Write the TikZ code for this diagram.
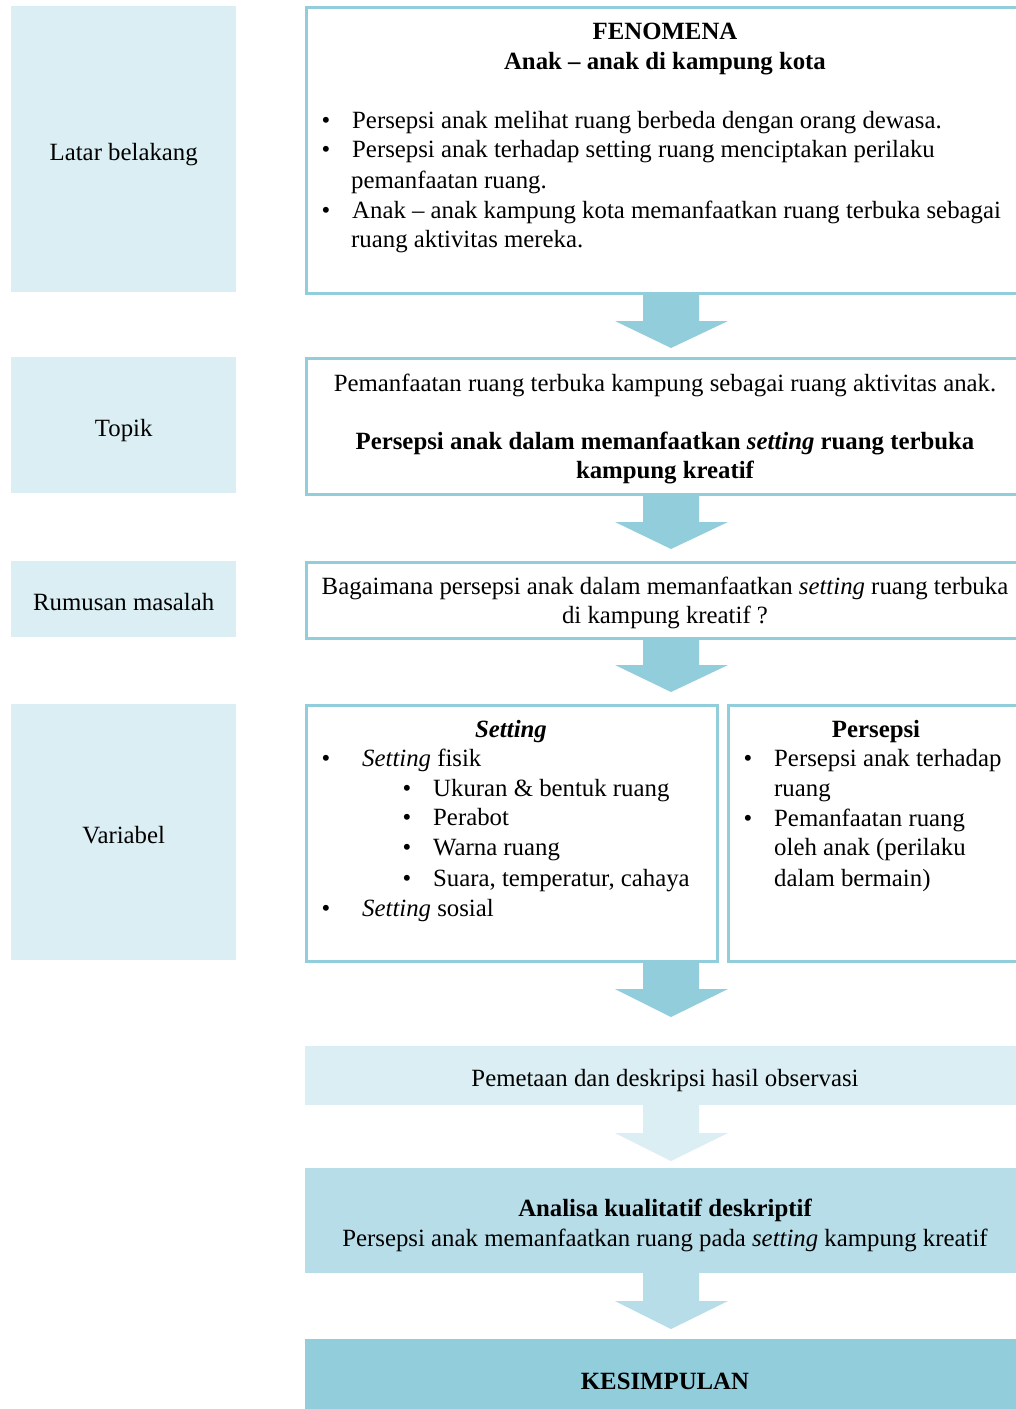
\documentclass[tikz,border=0pt]{standalone}
\usepackage{fontspec}
\setmainfont{Liberation Serif}
\definecolor{bblue}{HTML}{92CDDC}
\definecolor{lblue}{HTML}{DAEEF3}
\definecolor{mblue}{HTML}{B7DDE8}
\newcommand\fs{\fontsize{24.8}{29.5}\selectfont}
\newcommand\blockarrow[4]{%
  \fill[#4] (643,#1) -- (699,#1) -- (699,#2) -- (728,#2) -- (671,#3) -- (615,#2) -- (643,#2) -- cycle;}
\begin{document}
\begin{tikzpicture}[x=1pt,y=-1pt,
  txt/.style={inner sep=0, anchor=base west, font=\fs},
  ctxt/.style={inner sep=0, anchor=base, font=\fs},
  bul/.style={inner sep=0, anchor=base, font=\fs},
  lab/.style={fill=lblue, inner sep=0, anchor=north west, font=\fs, text height=22pt, text depth=0pt},
  box/.style={draw=bblue, line width=3, fill=white, inner sep=0, anchor=north west},
  flat/.style={inner sep=0, anchor=north west},
]
\clip (0,0) rectangle (1016,1409);
\fill[white] (0,0) rectangle (1016,1409);

% left labels
\node[lab, minimum width=225, minimum height=286] (lb) at (11,6) {Latar belakang};
\node[lab, minimum width=225, minimum height=136] (lt) at (11,357) {Topik};
\node[lab, minimum width=225, minimum height=76] (lr) at (11,561) {Rumusan masalah};
\node[lab, minimum width=225, minimum height=256] (lv) at (11,704) {Variabel};

% right boxes
\node[box, minimum width=720, minimum height=286] (fen) at (305,6) {};
\node[box, minimum width=720, minimum height=136] (top) at (305,357) {};
\node[box, minimum width=720, minimum height=76] (rum) at (305,561) {};
\node[box, minimum width=411, minimum height=256] (set) at (305,704) {};
\node[box, minimum width=300, minimum height=256] (per) at (727,704) {};
\node[flat, fill=lblue, minimum width=720, minimum height=59] (pem) at (305,1046) {};
\node[flat, fill=mblue, minimum width=720, minimum height=105] (ana) at (305,1168) {};
\node[flat, fill=bblue, minimum width=720, minimum height=75] (kes) at (305,1339) {};

% arrows
\blockarrow{293}{321}{348}{bblue}
\blockarrow{495}{522}{549}{bblue}
\blockarrow{639}{665}{692}{bblue}
\blockarrow{962}{989}{1017}{bblue}
\blockarrow{1105}{1133}{1161}{lblue}
\blockarrow{1273}{1301}{1329}{mblue}

% fenomena text
\node[ctxt] (f1) at (665,39) {\bfseries FENOMENA};
\node[ctxt] (f2) at (665,69) {\bfseries Anak -- anak di kampung kota};
\node[bul] (fb1) at (326,128) {•};
\node[txt] (ft1) at (352,128) {Persepsi anak melihat ruang berbeda dengan orang dewasa.};
\node[bul] (fb2) at (326,157) {•};
\node[txt] (ft2) at (352,157) {Persepsi anak terhadap setting ruang menciptakan perilaku};
\node[txt] (ft3) at (351,188) {pemanfaatan ruang.};
\node[bul] (fb3) at (326,218) {•};
\node[txt] (ft4) at (352,218) {Anak -- anak kampung kota memanfaatkan ruang terbuka sebagai};
\node[txt] (ft5) at (351,247) {ruang aktivitas mereka.};

% topik text
\node[ctxt] (t1) at (665,391) {Pemanfaatan ruang terbuka kampung sebagai ruang aktivitas anak.};
\node[ctxt] (t2) at (665,449) {\bfseries Persepsi anak dalam memanfaatkan \textit{setting} ruang terbuka};
\node[ctxt] (t3) at (665,478) {\bfseries kampung kreatif};

% rumusan text
\node[ctxt] (r1) at (665,594) {Bagaimana persepsi anak dalam memanfaatkan \textit{setting} ruang terbuka};
\node[ctxt] (r2) at (665,623) {di kampung kreatif ?};

% setting text
\node[ctxt] (s0) at (511,737) {\bfseries\itshape Setting};
\node[bul] (sb1) at (326,766) {•};
\node[txt] (s1) at (362,766) {\textit{Setting} fisik};
\node[bul] (sb2) at (407,796) {•};
\node[txt] (s2) at (433,796) {Ukuran \& bentuk ruang};
\node[bul] (sb3) at (407,825) {•};
\node[txt] (s3) at (433,825) {Perabot};
\node[bul] (sb4) at (407,855) {•};
\node[txt] (s4) at (433,855) {Warna ruang};
\node[bul] (sb5) at (407,886) {•};
\node[txt] (s5) at (433,886) {Suara, temperatur, cahaya};
\node[bul] (sb6) at (326,916) {•};
\node[txt] (s6) at (362,916) {\textit{Setting} sosial};

% persepsi text
\node[ctxt] (p0) at (876,737) {\bfseries Persepsi};
\node[bul] (pb1) at (748,766) {•};
\node[txt] (p1) at (774,766) {Persepsi anak terhadap};
\node[txt] (p2) at (774,796) {ruang};
\node[bul] (pb2) at (748,826) {•};
\node[txt] (p3) at (774,826) {Pemanfaatan ruang};
\node[txt] (p4) at (774,855) {oleh anak (perilaku};
\node[txt] (p5) at (774,886) {dalam bermain)};

% lower boxes text
\node[ctxt] (m1) at (665,1086) {Pemetaan dan deskripsi hasil observasi};
\node[ctxt] (a1) at (665,1216) {\bfseries Analisa kualitatif deskriptif};
\node[ctxt] (a2) at (665,1246) {Persepsi anak memanfaatkan ruang pada \textit{setting} kampung kreatif};
\node[ctxt] (k1) at (665,1389) {\bfseries KESIMPULAN};
\end{tikzpicture}
\end{document}
